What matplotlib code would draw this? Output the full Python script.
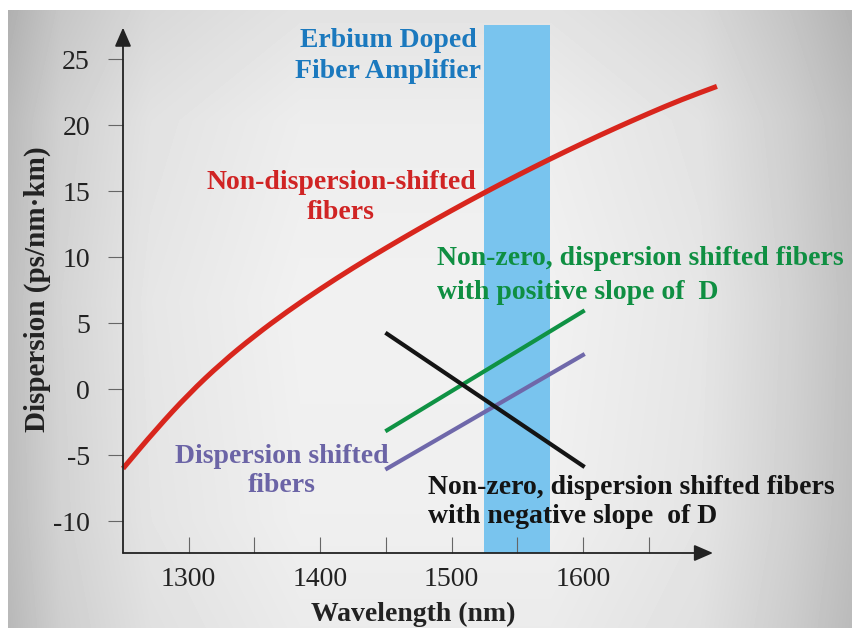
import numpy as np
import matplotlib.pyplot as plt
from matplotlib.path import Path
from matplotlib.patches import PathPatch

# dispersion curves (ps/nm·km) against wavelength (nm)
wl_standard = [1250, 1275, 1300, 1325, 1350, 1375, 1400, 1425, 1450, 1475,
               1500, 1525, 1550, 1575, 1600, 1625, 1650, 1675, 1702]
d_standard = [-6.0, -3.05, -0.35, 2.0, 4.05, 5.9, 7.6, 9.2, 10.7, 12.15,
              13.55, 14.9, 16.2, 17.45, 18.65, 19.8, 20.9, 21.95, 22.95]

wl_short = [1451, 1600]
d_nz_positive = [-3.1, 5.9]
d_shifted = [-6.0, 2.6]
d_nz_negative = [4.2, -5.8]

edfa_band = (1525, 1575)

x_ticks = [1300, 1400, 1500, 1600]
x_minor = [1350, 1450, 1550, 1650]
y_ticks = [-10, -5, 0, 5, 10, 15, 20, 25]


def smooth_path(xs, ys):
    # quadratic bezier through segment midpoints, data points as control points
    pts = np.column_stack([xs, ys]).astype(float)
    verts = [pts[0], (pts[0] + pts[1]) / 2]
    codes = [Path.MOVETO, Path.LINETO]
    for i in range(1, len(pts) - 1):
        verts += [pts[i], (pts[i] + pts[i + 1]) / 2]
        codes += [Path.CURVE3, Path.CURVE3]
    verts.append(pts[-1])
    codes.append(Path.LINETO)
    return Path(verts, codes)


W, H = 852, 628
fig = plt.figure(figsize=(W / 100, H / 100), dpi=100)
plt.rcParams['font.family'] = ['Liberation Serif', 'DejaVu Serif']

# grey backdrop, lighter in the middle
bg = fig.add_axes([0, 0, 1, 1])
bg.set_xlim(0, W)
bg.set_ylim(H, 0)
bg.axis('off')
xs = np.arange(W)
ys = np.arange(H)
hx = np.interp(xs, [8, 60, 150, 300, 550, 700, 790, 852],
               [190, 212, 230, 241, 241, 230, 210, 192])
vy = np.interp(ys, [10, 120, 300, 520, 628], [-14, -4, 0, -2, -6])
grad = np.clip(hx[None, :] + vy[:, None], 0, 255) / 255.0
grad[:10, :] = 1.0
grad[:, :8] = 1.0
bg.imshow(grad, cmap='gray', vmin=0, vmax=1, extent=(0, W, H, 0),
          aspect='auto', interpolation='bilinear')

x0, x1 = 123, 713
y0, y1 = 553, 25
ax = fig.add_axes([x0 / W, (H - y0) / H, (x1 - x0) / W, (y0 - y1) / H])
ax.patch.set_alpha(0)
ax.set_xlim(1250, 1699)
ax.set_ylim(-12.4, 27.6)
for s in ax.spines.values():
    s.set_visible(False)

ax.axvspan(*edfa_band, color='#79c4ee', lw=0, zorder=1)

# axes with arrow heads
arrow = dict(arrowstyle='-|>,head_length=1.15,head_width=0.5', color='#222222',
             lw=1.3, shrinkA=0, shrinkB=0)
ax.annotate('', xy=(1250, 27.4), xytext=(1250, -12.4), arrowprops=arrow,
            zorder=4, annotation_clip=False)
ax.annotate('', xy=(1699, -12.4), xytext=(1250, -12.4), arrowprops=arrow,
            zorder=4, annotation_clip=False)

ax.set_xticks(x_ticks)
ax.set_xticks(x_minor, minor=True)
ax.set_yticks(y_ticks)
ax.set_yticklabels([str(v) for v in y_ticks])
ax.tick_params(axis='x', which='both', direction='in', length=11.5,
               width=0.8, color='#666666', pad=10, labelsize=20,
               labelcolor='#222222')
ax.tick_params(axis='y', direction='out', length=10.8, width=0.8,
               color='#666666', pad=13, labelsize=20, labelcolor='#222222')

ax.add_patch(PathPatch(smooth_path(wl_standard, d_standard), fill=False,
                       edgecolor='#d8261d', lw=3.7, capstyle='butt',
                       zorder=3, clip_on=False))
ax.plot(wl_short, d_nz_positive, color='#0f9244', lw=3, zorder=3)
ax.plot(wl_short, d_shifted, color='#6f68aa', lw=3, zorder=3)
ax.plot(wl_short, d_nz_negative, color='#141414', lw=3, zorder=3)

bold = dict(fontsize=20, fontweight='bold', zorder=5)
ax.text(1452, 25.25, 'Erbium Doped\nFiber Amplifier', color='#1b79be',
        ha='center', va='center', multialignment='center', linespacing=1.28, **bold)
ax.text(1416, 14.55, 'Non-dispersion-shifted\nfibers', color='#d02424',
        ha='center', va='center', multialignment='center', linespacing=1.28, **bold)
ax.text(1489, 8.6, 'Non-zero, dispersion shifted fibers\nwith positive slope of  D',
        color='#0f8f42', ha='left', va='center', linespacing=1.48, **bold)
ax.text(1371, -6.2, 'Dispersion shifted\nfibers', color='#6b64a6',
        ha='center', va='center', multialignment='center', linespacing=1.2, **bold)
ax.text(1482, -8.55, 'Non-zero, dispersion shifted fibers\nwith negative slope  of D',
        color='#141414', ha='left', va='center', linespacing=1.22, **bold)

fig.text(37 / W, 1 - 289 / H, 'Dispersion (ps/nm·km)', rotation=90,
         ha='center', va='center', fontsize=21, fontweight='bold', color='#222222')
fig.text(413 / W, 1 - 614 / H, 'Wavelength (nm)', ha='center', va='center',
         fontsize=20, fontweight='bold', color='#222222')

fig.savefig('out.png', dpi=100)
